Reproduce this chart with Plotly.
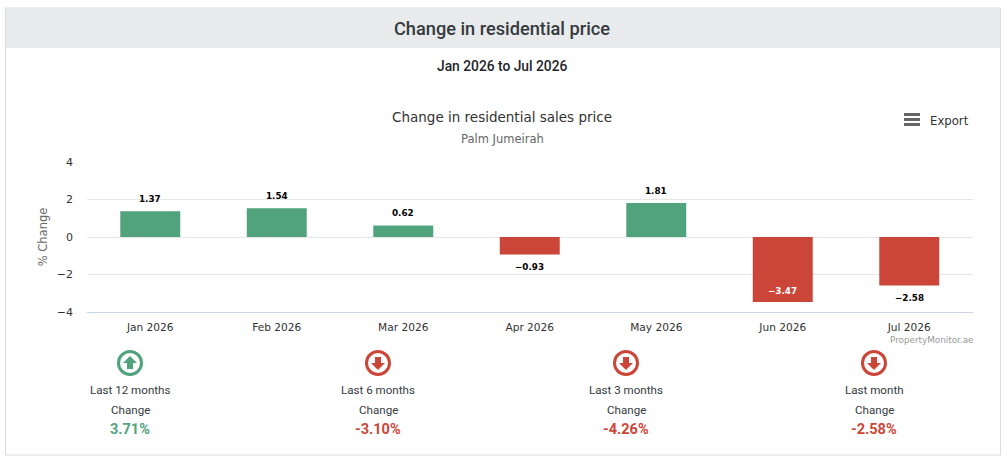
import plotly.graph_objects as go

W = 1006
H = 461

months = ["Jan 2026", "Feb 2026", "Mar 2026", "Apr 2026", "May 2026", "Jun 2026", "Jul 2026"]
changes = [1.37, 1.54, 0.62, -0.93, 1.81, -3.47, -2.58]
y_ticks = [-4, -2, 0, 2, 4]

periods = ["Last 12 months", "Last 6 months", "Last 3 months", "Last month"]
period_changes = [3.71, -3.10, -4.26, -2.58]
period_centers = [130, 378, 626, 874]

GREEN = "#50a37d"
RED = "#cb4638"
CHART_FONT = "DejaVu Sans"
PAGE_FONT = "Roboto"


def px_x(x):
    return x / W


def px_y(y):
    return 1 - y / H


def note(x, y, text, size, color="#333333", font=CHART_FONT, anchor="center", weight="normal"):
    return dict(x=px_x(x), y=px_y(y), xref="paper", yref="paper", text=text, showarrow=False,
                xanchor=anchor, yanchor="middle", font=dict(family=font, size=size, color=color, weight=weight))


def box(x0, y0, x1, y1, **kwargs):
    return dict(type="rect", xref="paper", yref="paper", x0=px_x(x0), x1=px_x(x1),
                y0=px_y(y0), y1=px_y(y1), **kwargs)


def arrow_path(cx, cy, up):
    # arrow icon, drawn pointing up then flipped for the negative ones
    s = -1 if up else 1
    pts = [(0, 7), (-7, 0), (-3, 0), (-3, -6), (3, -6), (3, 0), (7, 0)]
    coords = [f"{px_x(cx + a):.5f},{px_y(cy + s * b):.5f}" for a, b in pts]
    return "M " + " L ".join(coords) + " Z"


colors = [GREEN if v >= 0 else RED for v in changes]

fig = go.Figure(go.Bar(x=months, y=changes, marker=dict(color=colors, line=dict(width=0)), hoverinfo="skip"))

shapes = [
    box(5.5, 8, 1000.5, 455, line=dict(color="#dddddd", width=1), fillcolor="white", layer="below"),
    box(6, 8.5, 1000, 48, line=dict(width=0), fillcolor="#e9eaec", layer="below"),
]

annotations = [
    note(501.5, 28, "Change in residential price", 18.2, "#343a40", PAGE_FONT, weight=500),
    note(502, 66, "Jan 2026 to Jul 2026", 13.8, "#212529", PAGE_FONT, weight=500),
    note(502, 117, "Change in residential sales price", 13.5, "#333333"),
    note(502, 139, "Palm Jumeirah", 11.5, "#666666"),
    note(927.5, 121.5, "Export", 11.7, "#333333", anchor="left"),
    note(975, 340, "PropertyMonitor.ae", 8.8, "#999999", anchor="right"),
]

# data labels
for month, value in zip(months, changes):
    inside = value < -3
    shift = -13 if value < 0 else 12
    if inside:
        shift = 11
    annotations.append(dict(x=month, y=value, xref="x", yref="y", showarrow=False,
                            text="<b>" + f"{value:.2f}".replace("-", "\u2212") + "</b>",
                            yshift=shift, yanchor="middle",
                            font=dict(family=CHART_FONT, size=8.8, color="white" if inside else "black")))

# export menu icon
for bar_y in [114.5, 119.5, 124.5]:
    shapes.append(box(904, bar_y - 1.5, 920, bar_y + 1.5, line=dict(width=0), fillcolor="#666666"))

# summary columns under the chart
for label, value, cx in zip(periods, period_changes, period_centers):
    color = GREEN if value >= 0 else RED
    shapes.append(dict(type="circle", xref="paper", yref="paper", x0=px_x(cx - 11.5), x1=px_x(cx + 11.5),
                       y0=px_y(363 - 11.5), y1=px_y(363 + 11.5), line=dict(color=color, width=3)))
    shapes.append(dict(type="path", xref="paper", yref="paper", path=arrow_path(cx, 363, value >= 0),
                       fillcolor=color, line=dict(width=0)))
    annotations.append(note(cx, 390, label, 11.6, "#343a40", PAGE_FONT))
    annotations.append(note(cx, 410, "Change", 11.6, "#343a40", PAGE_FONT))
    annotations.append(note(cx, 429, f"{value:.2f}%", 14.5, color, PAGE_FONT, weight=700))

fig.update_layout(
    width=W,
    height=H,
    autosize=False,
    margin=dict(l=0, r=0, t=0, b=0),
    paper_bgcolor="white",
    plot_bgcolor="white",
    showlegend=False,
    bargap=0.526,
    shapes=shapes,
    annotations=annotations,
)
fig.update_xaxes(domain=[px_x(87), px_x(972.5)], showgrid=False, zeroline=False, showline=True, automargin=False,
                 linecolor="#ccd6eb", linewidth=1, ticks="", ticklen=0, ticklabelstandoff=5,
                 tickfont=dict(family=CHART_FONT, size=10.6, color="#333333"), anchor="y")
fig.update_yaxes(domain=[px_y(312), px_y(162)], range=[-4, 4], tickvals=y_ticks, showgrid=True, automargin=False,
                 gridcolor="#e6e6e6", gridwidth=1, zeroline=True, zerolinecolor="#e6e6e6", zerolinewidth=1,
                 tickfont=dict(family=CHART_FONT, size=11, color="#333333"), ticks="", ticklabelstandoff=13,
                 title=dict(text="% Change", font=dict(family=CHART_FONT, size=11.5, color="#666666"), standoff=6))

fig.write_html("out.html", config=dict(displayModeBar=False),
               post_script="document.body.style.margin='0';")
